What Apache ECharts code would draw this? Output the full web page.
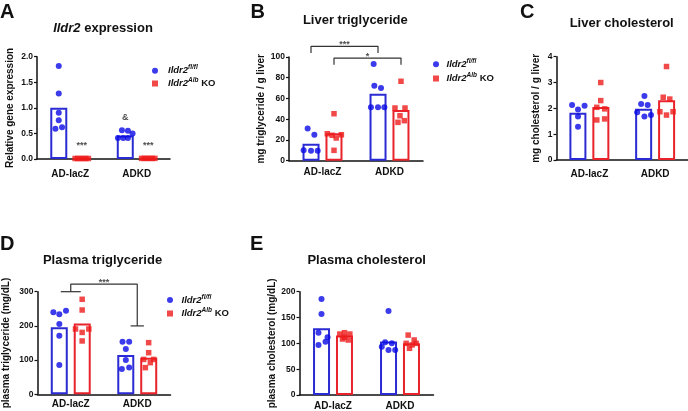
<!DOCTYPE html>
<html><head><meta charset="utf-8">
<script src="https://cdn.jsdelivr.net/npm/echarts@6/dist/echarts.min.js"></script>
<style>html,body{margin:0;padding:0;background:#fff}#c{width:688px;height:411px}</style>
</head><body><div id="c"></div>
<script>
const groups = ['AD-lacZ', 'ADKD'];

// Panel A: Ildr2 expression
const aTicks = ['0.0', '0.5', '1.0', '1.5', '2.0'];
const aFlBar = [1.0, 0.46];
const aKoBar = [0.01, 0.01];
const aFlPts = [[1.82, 1.28, 0.905, 0.76, 0.59, 0.62], [0.56, 0.55, 0.50, 0.41, 0.41, 0.41]];
const aFlJit = [[0, 0, 0, 0, -0.05, 0.05], [-0.05, 0.04, 0.11, -0.11, -0.03, 0.04]];
const aKoPts = [[0.01, 0.01, 0.01, 0.01, 0.01, 0.01], [0.012, 0.012, 0.012, 0.012, 0.012, 0.012]];
const aKoJit = [[-0.1, -0.06, -0.02, 0.02, 0.06, 0.1], [-0.1, -0.06, -0.02, 0.02, 0.06, 0.1]];
const aMarks = [{group: 0, side: 1, y: 0.26, text: '***'}, {group: 1, side: 1, y: 0.26, text: '***'}, {group: 1, side: -1, y: 0.82, text: '&'}];

// Panel B: Liver triglyceride
const bTicks = ['0', '20', '40', '60', '80', '100'];
const bFlBar = [16.4, 64.5];
const bKoBar = [26.5, 48.8];
const bFlPts = [[31, 25, 10, 9.6, 9.6], [93.2, 72.3, 70.1, 51.5, 51.5, 51.5]];
const bFlJit = [[-0.05, 0.05, -0.11, 0, 0.1], [-0.065, -0.055, 0.045, -0.105, 0, 0.095]];
const bKoPts = [[45.3, 26, 24.5, 21.9, 25, 10], [76.6, 50.8, 50.8, 43.4, 37, 38.6]];
const bKoJit = [[0, -0.1, -0.027, 0.033, 0.11, 0], [0, -0.09, 0.06, -0.015, -0.045, 0.05]];
const bBrackets = [
  {fromGroup: 0, toGroup: 1, side: -1, top: 110.3, foot: 103.9, text: '***', textY: 111.8},
  {fromGroup: 0, toGroup: 1, side: 1, top: 99, foot: 92.6, text: '*', textY: 100.7}
];

// Panel C: Liver cholesterol
const cTicks = ['0', '1', '2', '3', '4'];
const cFlBar = [1.83, 1.98];
const cKoBar = [2.05, 2.31];
const cFlPts = [[2.13, 2.10, 1.96, 1.68, 1.29], [2.48, 2.17, 2.13, 1.85, 1.68, 1.74]];
const cFlJit = [[-0.09, 0.1, 0, 0, 0], [0.01, -0.04, 0.06, -0.1, 0.01, 0.11]];
const cKoPts = [[3.0, 2.30, 2.04, 1.98, 1.55, 1.59], [3.62, 2.43, 2.36, 1.87, 1.74, 1.87]];
const cKoJit = [[0, 0, -0.06, 0.06, -0.06, 0.06], [0, -0.05, 0.05, -0.1, 0, 0.1]];

// Panel D: Plasma triglyceride
const dTicks = ['0', '100', '200', '300'];
const dFlBar = [196, 115];
const dKoBar = [207, 107];
const dFlPts = [[240, 234, 244.5, 205.6, 171, 85.7], [153.9, 153.9, 132.5, 100.3, 74, 78]];
const dFlJit = [[-0.09, 0, 0.1, 0, 0, 0], [-0.05, 0.05, 0, 0, -0.06, 0.05]];
const dKoPts = [[277.8, 246.5, 191, 191, 181, 156], [151, 121.7, 102, 102, 92.5, 78]];
const dKoJit = [[0, 0, -0.1, 0.1, 0, 0], [0, 0, -0.075, 0.075, 0.025, -0.05]];
const dBracket = {fromGroup: 0, toGroup: 1, top: 322, footL: 300, footR: 200, capL: 0.15, capR: 0.1, text: '***', textY: 327};

// Panel E: Plasma cholesterol
const eTicks = ['0', '50', '100', '150', '200'];
const eFlBar = [129, 103.5];
const eKoBar = [115, 100];
const eFlPts = [[185.8, 156.8, 120.6, 111.7, 103.2, 96.8], [162.6, 102, 100, 93.5, 87, 87]];
const eFlJit = [[0, 0, -0.045, 0.09, 0.06, -0.045], [0, -0.05, 0.05, -0.1, 0, 0.1]];
const eKoPts = [[120.6, 118, 118, 108.4, 106.5, 111.7], [116, 106.5, 100, 100, 90.4, 97]];
const eKoJit = [[0, -0.07, 0.08, -0.03, 0.055, 0], [-0.05, 0.04, -0.08, 0.07, -0.03, 0.01]];

const FONT = 'Liberation Sans, Arial, Helvetica, sans-serif';
const BLUE_BAR = '#2b2bd3', BLUE_PT = '#0a0ae6', RED_BAR = '#e8232b', RED_PT = '#ee1a1a';
const INK = '#111';

const panels = [
  {grid: {left: 37, top: 56.7, width: 133, height: 102.3}, max: 2, step: 0.5, ticks: aTicks,
   flBar: aFlBar, koBar: aKoBar, flPts: aFlPts, flJit: aFlJit, koPts: aKoPts, koJit: aKoJit,
   yName: 'Relative gene expression', nameGap: 22, catMargin: 10, marks: aMarks},
  {grid: {left: 289, top: 57, width: 134, height: 103.7}, max: 100, step: 20, ticks: bTicks,
   flBar: bFlBar, koBar: bKoBar, flPts: bFlPts, flJit: bFlJit, koPts: bKoPts, koJit: bKoJit,
   yName: 'mg triglyceride / g liver', nameGap: 22.5, catMargin: 7, brackets: bBrackets},
  {grid: {left: 556.5, top: 56.7, width: 133, height: 103.3}, max: 4, step: 1, ticks: cTicks,
   flBar: cFlBar, koBar: cKoBar, flPts: cFlPts, flJit: cFlJit, koPts: cKoPts, koJit: cKoJit,
   yName: 'mg cholesterol / g liver', nameGap: 15.5, catMargin: 9},
  {grid: {left: 36.5, top: 291.7, width: 134, height: 102.6}, max: 300, step: 100, ticks: dTicks,
   flBar: dFlBar, koBar: dKoBar, flPts: dFlPts, flJit: dFlJit, koPts: dKoPts, koJit: dKoJit,
   yName: 'plasma triglyceride (mg/dL)', nameGap: 26.5, catMargin: 5, groupBracket: dBracket},
  {grid: {left: 299.5, top: 291.7, width: 134, height: 103.3}, max: 200, step: 50, ticks: eTicks,
   flBar: eFlBar, koBar: eKoBar, flPts: eFlPts, flJit: eFlJit, koPts: eKoPts, koJit: eKoJit,
   yName: 'plasma cholesterol (mg/dL)', nameGap: 22.5, catMargin: 6}
];

const grids = [], xAxes = [], yAxes = [], series = [];
const lineStyleAxis = {color: INK, width: 1.5};
const markLabel = {show: true, position: 'inside', formatter: p => p.name, fontSize: 9, fontWeight: 'bold', color: '#222', fontFamily: FONT};

panels.forEach((p, g) => {
  grids.push(Object.assign({containLabel: false}, p.grid));
  xAxes.push({type: 'category', gridIndex: g, data: groups,
    axisLine: {lineStyle: lineStyleAxis}, axisTick: {show: false},
    axisLabel: {margin: p.catMargin, fontSize: 10, fontWeight: 'bold', color: INK, fontFamily: FONT}});
  xAxes.push({type: 'value', gridIndex: g, min: 0, max: 2, show: false});
  yAxes.push({type: 'value', gridIndex: g, min: 0, max: p.max, interval: p.step,
    name: p.yName, nameLocation: 'middle', nameGap: p.nameGap,
    nameTextStyle: {fontSize: 10, fontWeight: 'bold', color: INK, fontFamily: FONT},
    axisLine: {show: true, lineStyle: lineStyleAxis},
    axisTick: {show: true, length: 3, lineStyle: {color: INK, width: 1.2}},
    axisLabel: {margin: 4, fontSize: 8.5, fontWeight: 'bold', color: INK, fontFamily: FONT,
      formatter: v => p.ticks[Math.round(v / p.step)]},
    splitLine: {show: false}});
  const off = 11.5 / (p.grid.width / 2);
  const xOf = (grp, side) => grp + 0.5 + side * off;
  const pts = (vals, jit, side) => vals.flatMap((arr, i) => arr.map((v, k) => [xOf(i, side) + jit[i][k], v]));

  series.push({type: 'bar', name: 'flbar', xAxisIndex: 2 * g, yAxisIndex: g, data: p.flBar, barWidth: 17, barGap: '35%',
    itemStyle: {color: 'rgba(255,255,255,0)', borderColor: BLUE_BAR, borderWidth: 2}, z: 2, silent: true});
  series.push({type: 'bar', name: 'kobar', xAxisIndex: 2 * g, yAxisIndex: g, data: p.koBar, barWidth: 17, barGap: '35%',
    itemStyle: {color: 'rgba(255,255,255,0)', borderColor: RED_BAR, borderWidth: 2}, z: 2, silent: true});
  series.push({type: 'scatter', name: 'fl', xAxisIndex: 2 * g + 1, yAxisIndex: g, data: pts(p.flPts, p.flJit, -1),
    symbol: 'circle', symbolSize: 6, itemStyle: {color: BLUE_PT}, z: 4, clip: false, silent: true});
  series.push({type: 'scatter', name: 'ko', xAxisIndex: 2 * g + 1, yAxisIndex: g, data: pts(p.koPts, p.koJit, 1),
    symbol: 'rect', symbolSize: 5.5, itemStyle: {color: RED_PT}, z: 4, clip: false, silent: true});

  const bracketLine = data => series.push({type: 'line', xAxisIndex: 2 * g + 1, yAxisIndex: g, data,
    symbol: 'none', lineStyle: {color: '#333', width: 1.2}, clip: false, z: 3, silent: true});
  const labels = [];
  if (p.marks) p.marks.forEach(m => labels.push({value: [xOf(m.group, m.side), m.y], name: m.text}));
  if (p.brackets) p.brackets.forEach(b => {
    const x1 = xOf(b.fromGroup, b.side), x2 = xOf(b.toGroup, b.side);
    bracketLine([[x1, b.foot], [x1, b.top], [x2, b.top], [x2, b.foot]]);
    labels.push({value: [(x1 + x2) / 2, b.textY], name: b.text});
  });
  if (p.groupBracket) {
    const b = p.groupBracket;
    const x1 = b.fromGroup + 0.5, x2 = b.toGroup + 0.5;
    bracketLine([[x1 - b.capL, b.footL], [x1 + b.capL, b.footL]]);
    bracketLine([[x1, b.footL], [x1, b.top], [x2, b.top], [x2, b.footR]]);
    bracketLine([[x2 - b.capR, b.footR], [x2 + b.capR, b.footR]]);
    labels.push({value: [(x1 + x2) / 2, b.textY], name: b.text});
  }
  if (labels.length) series.push({type: 'scatter', xAxisIndex: 2 * g + 1, yAxisIndex: g, data: labels,
    symbolSize: 1, itemStyle: {color: 'rgba(0,0,0,0)'}, label: markLabel, clip: false, z: 5, silent: true});
});

const makeLegendRich = pad => ({
  i: {fontStyle: 'italic', fontWeight: 'bold', fontSize: 9.5, lineHeight: 13, color: INK, fontFamily: FONT, padding: [0, 0, 0, pad]},
  s: {fontStyle: 'italic', fontWeight: 'bold', fontSize: 6.5, lineHeight: 6, verticalAlign: 'top', color: INK, fontFamily: FONT},
  n: {fontWeight: 'bold', fontSize: 9.5, lineHeight: 13, color: INK, fontFamily: FONT}
});
const legendPos = [
  {left: 152, top: 64.2, itemGap: 1.3, pad: 5},
  {left: 433, top: 57.8, itemGap: 2.7, pad: 2.5},
  {left: 167, top: 293.5, itemGap: 2, pad: 3.5}
];
const legends = legendPos.map(l => ({
  left: l.left, top: l.top, itemGap: l.itemGap,
  orient: 'vertical', selectedMode: false, padding: 0, itemWidth: 6, itemHeight: 6,
  data: [{name: 'fl', icon: 'circle'}, {name: 'ko', icon: 'rect'}],
  formatter: n => n === 'fl' ? '{i|Ildr2}{s|fl/fl}' : '{i|Ildr2}{s|Alb}{n| KO}',
  textStyle: {rich: makeLegendRich(l.pad)}
}));

const titleRich = {
  i: {fontStyle: 'italic', fontWeight: 'bold', fontSize: 13, color: INK, fontFamily: FONT},
  n: {fontWeight: 'bold', fontSize: 13, color: INK, fontFamily: FONT}
};
const letter = (t, left, top) => ({text: t, left, top, padding: 0, textStyle: {fontSize: 20, fontWeight: 'bold', color: INK, fontFamily: FONT}});
const head = (t, left, top) => ({text: t, left, top, padding: 0, textAlign: 'center', textStyle: {fontSize: 13, fontWeight: 'bold', color: INK, fontFamily: FONT, rich: titleRich}});

const titles = [
  letter('A', 0, 2.2), letter('B', 250.5, 2.2), letter('C', 520, 2.5), letter('D', 0, 234.7), letter('E', 250, 234.7),
  head('{i|Ildr2}{n| expression}', 103, 21.5),
  head('Liver triglyceride', 355.3, 13.5),
  head('Liver cholesterol', 621.7, 16.5),
  head('Plasma triglyceride', 102.5, 253.5),
  head('Plasma cholesterol', 366.7, 253.5)
];

const chart = echarts.init(document.getElementById('c'), null, {renderer: 'canvas'});
chart.setOption({
  animation: false,
  backgroundColor: '#fff',
  textStyle: {fontFamily: FONT},
  title: titles,
  legend: legends,
  grid: grids,
  xAxis: xAxes,
  yAxis: yAxes,
  series
});
</script></body></html>
